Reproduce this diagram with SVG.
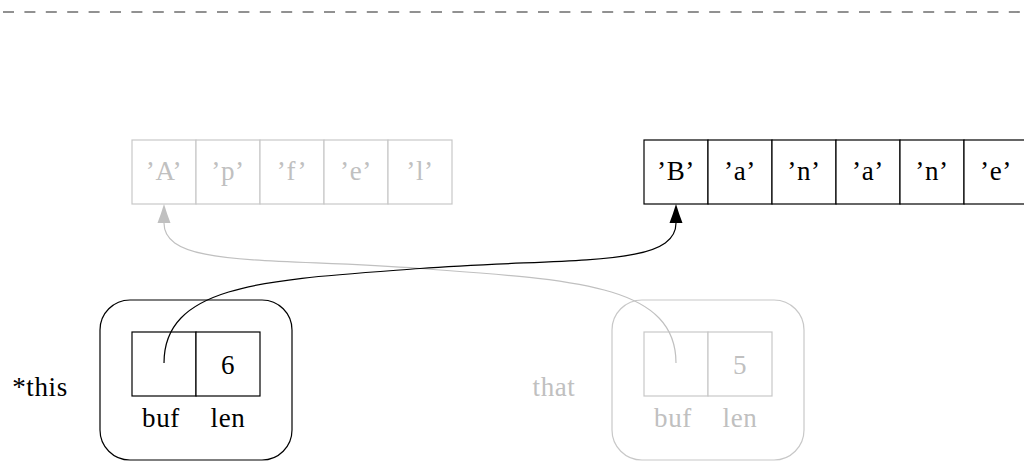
<svg xmlns="http://www.w3.org/2000/svg" width="1024" height="461" viewBox="0 0 1024 461">
  <style>
    .lbl { font-family: "Liberation Serif", "Times New Roman", serif; font-size: 27px; letter-spacing: 0.6px; text-anchor: middle; }
    .blk { fill: #000; }
    .dim { fill: #c0c0c0; }
    .cell-blk { fill: #fff; stroke: #000; stroke-width: 1.2; }
    .cell-dim { fill: #fff; stroke: #c8c8c8; stroke-width: 1.2; }
    .frame-blk { fill: none; stroke: #000; stroke-width: 1.2; }
    .frame-dim { fill: none; stroke: #c8c8c8; stroke-width: 1.2; }
    .wire-blk { fill: none; stroke: #000; stroke-width: 1.2; }
    .wire-dim { fill: none; stroke: #c0c0c0; stroke-width: 1.2; }
  </style>
  <defs>
    <marker id="tip-blk" markerUnits="userSpaceOnUse" markerWidth="22" markerHeight="16" refX="0" refY="8" orient="auto" viewBox="0 0 22 16">
      <path d="M0,1.5 Q9,5 19,8 Q9,11 0,14.5 Z" fill="#000"/>
    </marker>
    <marker id="tip-dim" markerUnits="userSpaceOnUse" markerWidth="22" markerHeight="16" refX="0" refY="8" orient="auto" viewBox="0 0 22 16">
      <path d="M0,1.5 Q9,5 19,8 Q9,11 0,14.5 Z" fill="#c0c0c0"/>
    </marker>
  </defs>

  <rect width="1024" height="461" fill="#fff"/>

  <!-- separator -->
  <line x1="3" y1="12" x2="1024" y2="12" stroke="#6e6e6e" stroke-width="1.6" stroke-dasharray="11 10.4"/>

  <!-- old buffer "Apfel" (faded) -->
  <g id="old-buffer">
    <rect class="cell-dim" x="132" y="140" width="64" height="64"/>
    <rect class="cell-dim" x="196" y="140" width="64" height="64"/>
    <rect class="cell-dim" x="260" y="140" width="64" height="64"/>
    <rect class="cell-dim" x="324" y="140" width="64" height="64"/>
    <rect class="cell-dim" x="388" y="140" width="64" height="64"/>
    <text class="lbl dim" x="164" y="180">’A’</text>
    <text class="lbl dim" x="228" y="180">’p’</text>
    <text class="lbl dim" x="292" y="180">’f’</text>
    <text class="lbl dim" x="356" y="180">’e’</text>
    <text class="lbl dim" x="420" y="180">’l’</text>
  </g>

  <!-- new buffer "Banane" -->
  <g id="new-buffer">
    <rect class="cell-blk" x="644" y="140" width="64" height="64"/>
    <rect class="cell-blk" x="708" y="140" width="64" height="64"/>
    <rect class="cell-blk" x="772" y="140" width="64" height="64"/>
    <rect class="cell-blk" x="836" y="140" width="64" height="64"/>
    <rect class="cell-blk" x="900" y="140" width="64" height="64"/>
    <rect class="cell-blk" x="964" y="140" width="64" height="64"/>
    <text class="lbl blk" x="676" y="180">’B’</text>
    <text class="lbl blk" x="740" y="180">’a’</text>
    <text class="lbl blk" x="804" y="180">’n’</text>
    <text class="lbl blk" x="868" y="180">’a’</text>
    <text class="lbl blk" x="932" y="180">’n’</text>
    <text class="lbl blk" x="996" y="180">’e’</text>
  </g>

  <!-- *this object -->
  <g id="this-object">
    <text class="lbl blk" x="40" y="396">*this</text>
    <rect class="frame-blk" x="100" y="300" width="192" height="160" rx="30" ry="30"/>
    <rect class="cell-blk" x="132" y="332" width="64" height="64"/>
    <rect class="cell-blk" x="196" y="332" width="64" height="64"/>
    <text class="lbl blk" x="228" y="374">6</text>
    <text class="lbl blk" x="161" y="427">buf</text>
    <text class="lbl blk" x="228" y="427">len</text>
  </g>

  <!-- that object (faded) -->
  <g id="that-object">
    <text class="lbl dim" x="554" y="396">that</text>
    <rect class="frame-dim" x="612" y="300" width="192" height="160" rx="30" ry="30"/>
    <rect class="cell-dim" x="644" y="332" width="64" height="64"/>
    <rect class="cell-dim" x="708" y="332" width="64" height="64"/>
    <text class="lbl dim" x="740" y="374">5</text>
    <text class="lbl dim" x="673" y="427">buf</text>
    <text class="lbl dim" x="740" y="427">len</text>
  </g>

  <!-- pointers -->
  <g id="connectors">
    <path class="wire-dim" d="M676,363 C676,283 570,279.75 420,268.5 C270,257.25 164,268 164,223" marker-end="url(#tip-dim)"/>
    <path class="wire-blk" d="M164,363 C164,283 270,279.75 420,268.5 C570,257.25 676,268 676,223" marker-end="url(#tip-blk)"/>
  </g>
</svg>
